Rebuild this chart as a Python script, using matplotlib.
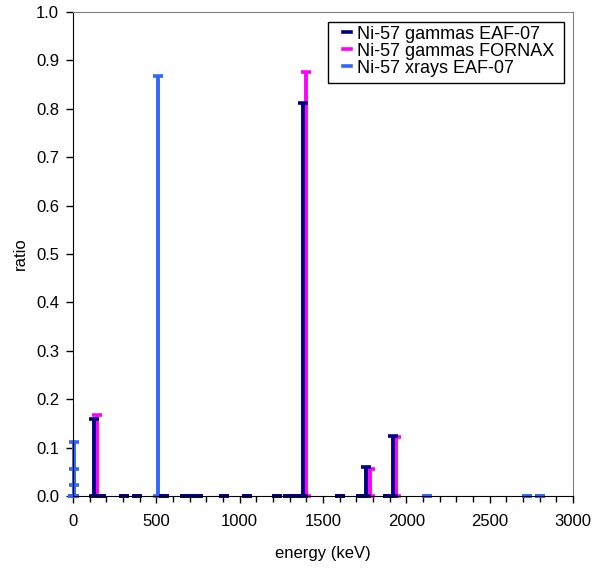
import numpy as np
import matplotlib
matplotlib.use("Agg")
import matplotlib.pyplot as plt
from matplotlib.lines import Line2D
from matplotlib.patches import Rectangle
from matplotlib.ticker import MultipleLocator, FormatStrFormatter

plt.rcParams['font.family'] = ['Liberation Sans', 'DejaVu Sans']

# Ni-57 gamma lines, EAF-07 (energy keV, ratio)
eaf_gamma_e = [127, 165, 305, 383, 545, 674, 700, 752, 908, 1046, 1224, 1290,
               1345, 1377, 1599, 1730, 1760, 1892, 1919]
eaf_gamma_r = [0.160, 0.0, 0.0, 0.0, 0.0, 0.0, 0.0, 0.0, 0.0, 0.0, 0.0, 0.0,
               0.0, 0.811, 0.0, 0.0, 0.059, 0.0, 0.124]

# Ni-57 gamma lines, FORNAX
fornax_gamma_e = [146, 1397, 1782, 1938]
fornax_gamma_r = [0.167, 0.877, 0.056, 0.122]

# Ni-57 x-rays, EAF-07
eaf_xray_e = [1, 6.9, 6.9, 7.6, 511, 2122, 2725, 2802]
eaf_xray_r = [0.0, 0.112, 0.056, 0.022, 0.868, 0.0, 0.0, 0.0]

navy = '#000080'
pink = '#FF00FF'
blue = '#3366FF'

fig = plt.figure(figsize=(6.05, 5.69), dpi=100)
ax = fig.add_axes([73/605, 73/569, 500/605, 484/569])


def bars(e, r, color):
    r = np.array(r)
    eb = ax.errorbar(e, r, yerr=[r, np.zeros_like(r)], fmt='none', ecolor=color,
                     elinewidth=2.8, capsize=3.8, capthick=2.6)
    for art in eb.lines[1] + eb.lines[2]:
        art.set_clip_on(False)


bars(eaf_xray_e, eaf_xray_r, blue)
bars(fornax_gamma_e, fornax_gamma_r, pink)
bars(eaf_gamma_e, eaf_gamma_r, navy)

ax.set_xlim(0, 3000)
ax.set_ylim(0, 1.0)
ax.xaxis.set_major_locator(MultipleLocator(500))
ax.xaxis.set_minor_locator(MultipleLocator(100))
ax.yaxis.set_major_locator(MultipleLocator(0.1))
ax.yaxis.set_major_formatter(FormatStrFormatter('%.1f'))

ax.tick_params(axis='both', which='major', direction='out', length=5, width=1,
               labelsize=12, colors='black')
ax.tick_params(axis='x', which='minor', direction='out', length=4, width=1)
ax.tick_params(axis='x', which='major', pad=8)
ax.tick_params(axis='y', which='major', pad=5)

for s in ['top', 'right']:
    ax.spines[s].set_color('#808080')
for s in ['left', 'bottom']:
    ax.spines[s].set_color('black')

ax.set_xlabel('energy (keV)', fontsize=12, labelpad=12)
ax.set_ylabel('ratio', fontsize=12, labelpad=6)

# legend frame drawn separately so the padding can match the original
ax.add_patch(Rectangle((0.51, 0.853), 0.472, 0.126, transform=ax.transAxes,
                       facecolor='white', edgecolor='black', lw=1, zorder=4))

handles = [Line2D([], [], color=navy, lw=2.6),
           Line2D([], [], color=pink, lw=2.6),
           Line2D([], [], color=blue, lw=2.6)]
labels = ['Ni-57 gammas EAF-07', 'Ni-57 gammas FORNAX', 'Ni-57 xrays EAF-07']
leg = ax.legend(handles, labels, loc='upper left', bbox_to_anchor=(0.539, 0.972),
                borderaxespad=0, fontsize=13, frameon=False,
                handlelength=0.45, handletextpad=0.34, labelspacing=0.0,
                borderpad=0)
leg.set_zorder(5)

fig.savefig('out.png', dpi=100)
